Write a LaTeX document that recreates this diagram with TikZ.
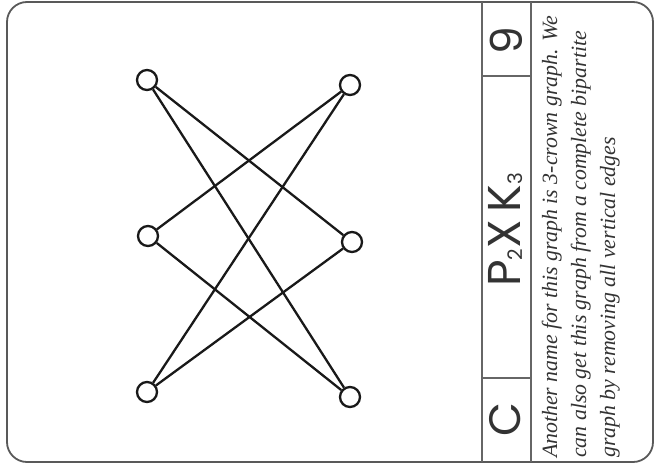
\documentclass[tikz,border=0pt]{standalone}
\usepackage{fontspec}
\setmainfont{Liberation Serif}
\newfontfamily\titlefont{Poppins}
\begin{document}
\begin{tikzpicture}[x=1pt,y=-1pt,
  vtx/.style={circle,draw=black!90,line width=2.3pt,minimum size=20pt,inner sep=0pt},
  edge/.style={draw=black!90,line width=2.3pt},
  cardframe/.style={draw=black!65,line width=1.8pt},
  cardrule/.style={draw=black!60,line width=1.3pt},
  ttl/.style={rotate=90,text=black!80,font=\titlefont,inner sep=0pt},
  desc/.style={rotate=90,anchor=base west,font=\fontsize{21.8}{26}\selectfont\itshape,text=black!80,inner sep=0pt}]
\useasboundingbox (0,0) rectangle (661,466);
\draw[cardframe,rounded corners=20pt] (7,2) rectangle (653,462);
\coordinate (v1t) at (482,2); \coordinate (v1b) at (482,462);
\coordinate (v2t) at (531,2); \coordinate (v2b) at (531,462);
\coordinate (h1l) at (482,76); \coordinate (h1r) at (531,76);
\coordinate (h2l) at (482,378); \coordinate (h2r) at (531,378);
\draw[cardrule] (v1t) -- (v1b);
\draw[cardrule] (v2t) -- (v2b);
\draw[cardrule] (h1l) -- (h1r);
\draw[cardrule] (h2l) -- (h2r);
% title cells
\node[ttl] (nine) at (506,41) {\fontsize{44}{44}\selectfont 9};
\node[ttl] (cee) at (505,420) {\fontsize{44}{44}\selectfont C};
\node[ttl] (name) at (506,230) {\fontsize{46}{46}\selectfont P\raisebox{-2pt}{\fontsize{20}{20}\selectfont 2}X\,K\raisebox{-2pt}{\fontsize{20}{20}\selectfont 3}};
% description
\node[desc] (d1) at (557,458) {Another name for this graph is 3-crown graph. We};
\node[desc] (d2) at (586,458) {can also get this graph from a complete bipartite};
\node[desc] (d3) at (615,458) {graph by removing all vertical edges};
% graph
\node[vtx] (a1) at (147,80) {};
\node[vtx] (a2) at (148,236) {};
\node[vtx] (a3) at (147,392) {};
\node[vtx] (b1) at (350,85) {};
\node[vtx] (b2) at (352,242) {};
\node[vtx] (b3) at (350,397) {};
\draw[edge] (a1) -- (b2);
\draw[edge] (a1) -- (b3);
\draw[edge] (a2) -- (b1);
\draw[edge] (a2) -- (b3);
\draw[edge] (a3) -- (b1);
\draw[edge] (a3) -- (b2);
\end{tikzpicture}
\end{document}
